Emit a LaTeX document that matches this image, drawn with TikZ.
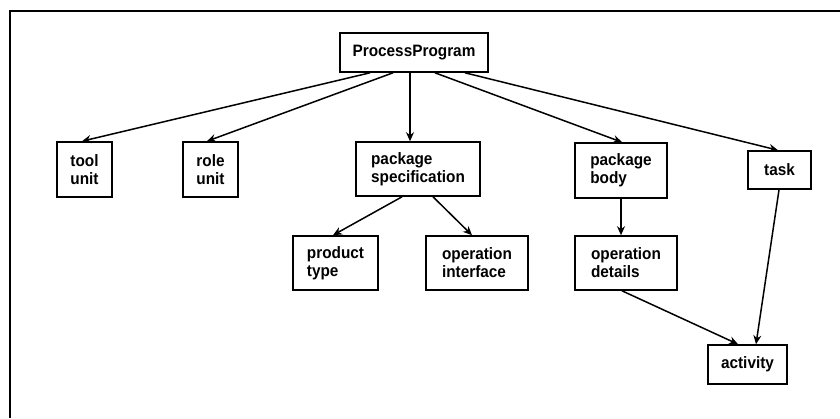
\documentclass[tikz,border=0pt]{standalone}
\usepackage{fontspec}
\setmainfont{Liberation Sans}
\newfontfamily\labelfont[FakeStretch=0.93]{Liberation Sans}
\usetikzlibrary{arrows.meta}
\begin{document}
\begin{tikzpicture}[x=1pt,y=-1pt,
  box/.style={draw, line width=1.6pt, align=left, inner sep=0pt,
    font=\labelfont\bfseries\fontsize{16.5}{18}\selectfont},
  link/.style={line width=1.5pt, -{Stealth[length=9pt,width=8pt]}},
  edge/.style={line width=1.8pt}]
\useasboundingbox (0,0) rectangle (840,418);
% partial frame: top and left edges only
\coordinate (ftop) at (840,11);
\coordinate (fcorner) at (10,11);
\coordinate (fbot) at (10,418);
\draw[edge] (ftop) -- (fcorner) -- (fbot);

% nodes
\node[box, minimum width=148pt, minimum height=39pt] (pp) at (414,52.5) {ProcessProgram};
\node[box, minimum width=55pt, minimum height=55pt] (tool) at (84.5,169.5) {tool\\unit};
\node[box, minimum width=55pt, minimum height=55pt] (role) at (210.5,169.5) {role\\unit};
\node[box, minimum width=124pt, minimum height=54pt] (spec) at (418,169) {package\\specification};
\node[box, minimum width=92pt, minimum height=55pt] (body) at (621,170.5) {package\\body};
\node[box, minimum width=63pt, minimum height=38pt] (task) at (779.5,170) {task};
\node[box, minimum width=85pt, minimum height=54pt] (ptype) at (335.5,263) {product\\type};
\node[box, minimum width=102pt, minimum height=54pt] (opint) at (477,263) {operation\\interface};
\node[box, minimum width=102pt, minimum height=54pt] (opdet) at (626,263) {operation\\details};
\node[box, minimum width=79pt, minimum height=39pt] (act) at (747.5,364.5) {activity};

% connectors
\draw[link] ([xshift=-44pt]pp.south) -- ([xshift=-2.5pt]tool.north);
\draw[link] ([xshift=-21pt]pp.south) -- ([xshift=-3.5pt]role.north);
\draw[link] ([xshift=-4pt]pp.south) -- ([xshift=-8pt]spec.north);
\draw[link] ([xshift=21pt]pp.south) -- ([xshift=1pt]body.north);
\draw[link] ([xshift=51pt]pp.south) -- ([xshift=-1.5pt]task.north);
\draw[link] ([xshift=-16pt]spec.south) -- ([xshift=-2.5pt]ptype.north);
\draw[link] ([xshift=15pt]spec.south) -- ([xshift=-5pt]opint.north);
\draw[link] (body.south) -- ([xshift=-5pt]opdet.north);
\draw[link] ([xshift=-4pt]opdet.south) -- ([xshift=-9.5pt]act.north);
\draw[link] ([xshift=-0.5pt]task.south) -- ([xshift=8.5pt]act.north);
\end{tikzpicture}
\end{document}
